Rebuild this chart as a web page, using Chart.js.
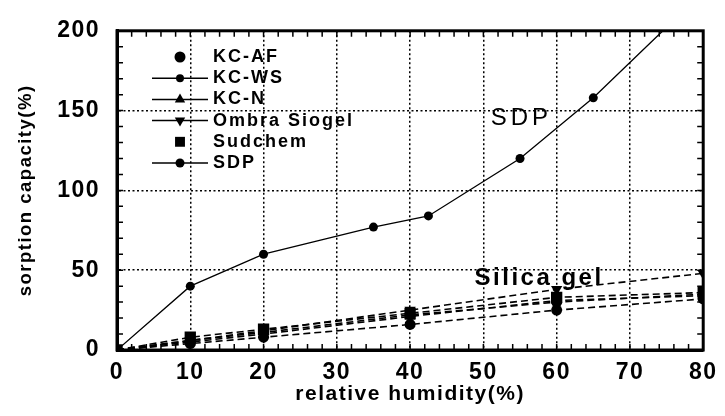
<!DOCTYPE html>
<html>
<head>
<meta charset="utf-8">
<script src="https://cdn.jsdelivr.net/npm/chart.js@4"></script>
<style>
  body { margin: 0; background: #fff; }
</style>
</head>
<body>
<canvas id="myChart" width="725" height="416"></canvas>
<script>
  // data block
  const humidity = [0, 10, 20, 40, 60, 80];
  const kcAF = [0, 6, 11, 22, 30, 35];
  const kcWS = [0, 4, 8, 16, 25, 32];
  const kcN = [0, 5, 10, 21, 31, 34];
  const ombra = [0, 6, 12, 25, 38, 48];
  const sudchem = [0, 8, 13, 23, 33, 36];

  const sdpHumidity = [0, 10, 20, 35, 42.5, 55, 65, 74.5];
  const sdp = [0, 40, 60, 77, 84, 120, 158, 200];

  const xTicks = [0, 10, 20, 30, 40, 50, 60, 70, 80];
  const yTicks = [0, 50, 100, 150, 200];

  const names = ['KC-AF', 'KC-WS', 'KC-N', 'Ombra Siogel', 'Sudchem', 'SDP'];
  const legendLine = [false, true, true, true, false, true];
  const legendSize = [5.5, 4, 6, 6, 7, 4.5];

  const font = "'Liberation Sans', Arial, sans-serif";

  function pts(xs, ys) {
    return xs.map(function(x, i) { return {x: x, y: ys[i]}; });
  }

  function markerSize(style) {
    if (style === 'rect') return 8;
    if (style === 'triangle') return 6.5;
    return 5.5;
  }

  function silica(label, values, style, rotation) {
    return {
      label: label,
      data: pts(humidity, values),
      borderColor: '#000',
      backgroundColor: '#000',
      borderWidth: 1.6,
      borderDash: [7, 4],
      pointStyle: style,
      rotation: rotation || 0,
      pointRadius: markerSize(style),
      pointBorderWidth: 0,
      tension: 0
    };
  }

  const data = {
    datasets: [
      silica(names[0], kcAF, 'circle'),
      silica(names[1], kcWS, 'circle'),
      silica(names[2], kcN, 'triangle'),
      silica(names[3], ombra, 'triangle', 180),
      silica(names[4], sudchem, 'rect'),
      {
        label: names[5],
        data: pts(sdpHumidity, sdp),
        borderColor: '#000',
        backgroundColor: '#000',
        borderWidth: 1.3,
        pointStyle: 'circle',
        pointRadius: sdp.map(function(v, i) { return i === sdp.length - 1 ? 0 : 4.5; }),
        pointBorderWidth: 0,
        tension: 0
      }
    ]
  };

  // frame, inward minor ticks, legend and labels
  const decorate = {
    id: 'decorate',
    beforeDraw(chart) {
      chart.ctx.letterSpacing = '1.5px';
    },
    afterDraw(chart) {
      const ctx = chart.ctx;
      const a = chart.chartArea;
      const xs = chart.scales.x;
      const ys = chart.scales.y;
      ctx.save();
      ctx.strokeStyle = '#000';
      ctx.lineWidth = 1.5;
      ctx.beginPath();
      for (let v = 2; v < 80; v += 2) {
        const px = xs.getPixelForValue(v);
        ctx.moveTo(px, a.bottom); ctx.lineTo(px, a.bottom - 6);
        ctx.moveTo(px, a.top); ctx.lineTo(px, a.top + 6);
      }
      for (let v = 10; v < 200; v += 10) {
        const py = ys.getPixelForValue(v);
        ctx.moveTo(a.left, py); ctx.lineTo(a.left + 6, py);
        ctx.moveTo(a.right, py); ctx.lineTo(a.right - 6, py);
      }
      ctx.stroke();
      ctx.lineWidth = 3;
      ctx.strokeRect(a.left, a.top, a.right - a.left, a.bottom - a.top);

      // legend
      ctx.fillStyle = '#000';
      ctx.textBaseline = 'middle';
      ctx.textAlign = 'left';
      ctx.font = 'bold 18px ' + font;
      ctx.letterSpacing = '2px';
      chart.data.datasets.forEach(function(ds, i) {
        const y = 57 + i * 21.2;
        if (legendLine[i]) {
          ctx.lineWidth = 1.5;
          ctx.setLineDash([]);
          ctx.beginPath();
          ctx.moveTo(152, y);
          ctx.lineTo(208, y);
          ctx.stroke();
        }
        Chart.helpers.drawPoint(ctx, {
          pointStyle: ds.pointStyle,
          rotation: ds.rotation,
          radius: legendSize[i],
          borderWidth: 0
        }, 180, y);
        ctx.fillText(ds.label, 213, y);
      });

      ctx.font = '24px ' + font;
      ctx.letterSpacing = '4px';
      ctx.fillText('SDP', xs.getPixelForValue(51), ys.getPixelForValue(145));
      ctx.font = 'bold 24px ' + font;
      ctx.letterSpacing = '2.5px';
      ctx.fillText('Silica gel', xs.getPixelForValue(48.8), ys.getPixelForValue(45));
      ctx.restore();
    }
  };

  const config = {
    type: 'line',
    data: data,
    options: {
      responsive: false,
      animation: false,
      layout: { padding: { top: 18, right: 18, left: 0, bottom: 0 } },
      plugins: { legend: { display: false }, tooltip: { enabled: false } },
      scales: {
        x: {
          type: 'linear',
          min: 0,
          max: 80,
          afterFit(s) { s.height = 66; },
          afterBuildTicks(s) { s.ticks = xTicks.map(function(v) { return {value: v}; }); },
          ticks: { color: '#000', padding: 9, font: { family: font, size: 23, weight: 'bold' } },
          grid: { color: '#000', lineWidth: 1.5, drawTicks: false },
          border: { display: true, color: '#000', width: 3, dash: [2, 2.5] },
          title: {
            display: true,
            text: 'relative humidity(%)',
            color: '#000',
            padding: { top: 0, bottom: 9 },
            font: { family: font, size: 21, weight: 'bold' }
          }
        },
        y: {
          min: 0,
          max: 200,
          afterFit(s) { s.width = 117; },
          afterBuildTicks(s) { s.ticks = yTicks.map(function(v) { return {value: v}; }); },
          ticks: { color: '#000', padding: 17, font: { family: font, size: 23, weight: 'bold' } },
          grid: { color: '#000', lineWidth: 1.5, drawTicks: false },
          border: { display: true, color: '#000', width: 3, dash: [2, 2.5] },
          title: {
            display: true,
            text: 'sorption capacity(%)',
            color: '#000',
            padding: { top: 15, bottom: 0 },
            font: { family: font, size: 18.5, weight: 'bold' }
          }
        }
      }
    },
    plugins: [decorate]
  };

  const myChart = new Chart(
    document.getElementById('myChart'),
    config
  );
</script>
</body>
</html>
